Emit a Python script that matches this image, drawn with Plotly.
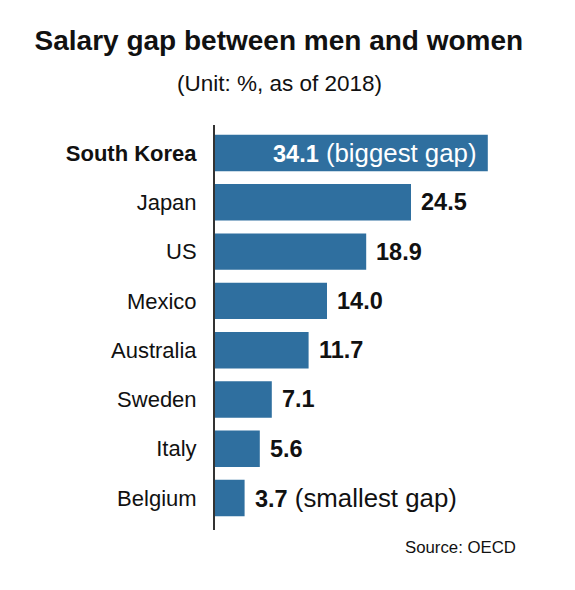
import plotly.graph_objects as go

countries = ["South Korea", "Japan", "US", "Mexico", "Australia", "Sweden", "Italy", "Belgium"]
gaps = [34.1, 24.5, 18.9, 14.0, 11.7, 7.1, 5.6, 3.7]
notes = {"South Korea": "biggest gap", "Belgium": "smallest gap"}

BAR = "#2f6f9f"
INK = "#111111"
FONT = "Liberation Sans, Arial, sans-serif"

fig = go.Figure(go.Bar(
    x=gaps,
    y=countries,
    orientation="h",
    width=0.74,
    marker=dict(color=BAR, line=dict(width=0)),
    hoverinfo="skip",
))

# value labels
for c, v in zip(countries, gaps):
    txt = f"<b>{v:.1f}</b>"
    if c in notes:
        txt += f"<span style='font-size:25.8px'> ({notes[c]})</span>"
    if c == "South Korea":
        fig.add_annotation(x=v, y=c, text=txt, showarrow=False, xanchor="right",
                           xshift=-9, font=dict(size=23.5, color="white", family=FONT))
    else:
        fig.add_annotation(x=v, y=c, text=txt, showarrow=False, xanchor="left",
                           xshift=8, font=dict(size=23.5, color=INK, family=FONT))

fig.add_annotation(text="(Unit: %, as of 2018)", xref="paper", yref="paper",
                   x=0.2, y=1.1027, xanchor="center", yanchor="middle",
                   showarrow=False, font=dict(size=22.5, color=INK, family=FONT))
fig.add_annotation(text="Source: OECD", xref="paper", yref="paper",
                   x=0.947, y=-0.042, xanchor="right", yanchor="middle",
                   showarrow=False, font=dict(size=16.8, color=INK, family=FONT))

fig.update_layout(
    width=575, height=590,
    margin=dict(l=215, r=40, t=125, b=60),
    title=dict(text="<b>Salary gap between men and women</b>", x=0.485, xanchor="center",
               y=1 - 40 / 590, yanchor="middle", font=dict(size=28, color=INK, family=FONT)),
    plot_bgcolor="white",
    paper_bgcolor="white",
    showlegend=False,
    font=dict(family=FONT, color=INK),
    xaxis=dict(range=[0, 40], visible=False, fixedrange=True),
    yaxis=dict(
        categoryorder="array", categoryarray=countries,
        range=[7.65, -0.57],
        tickmode="array", tickvals=countries,
        ticktext=["<b>South Korea</b>"] + countries[1:],
        tickfont=dict(size=22, color=INK, family=FONT),
        ticks="outside", ticklen=12, tickcolor="rgba(0,0,0,0)",
        showline=True, linecolor="#333333", linewidth=2,
        showgrid=False, zeroline=False, fixedrange=True,
    ),
)

fig.write_html("out.html", config={"displayModeBar": False},
               post_script="document.body.style.margin='0';")
